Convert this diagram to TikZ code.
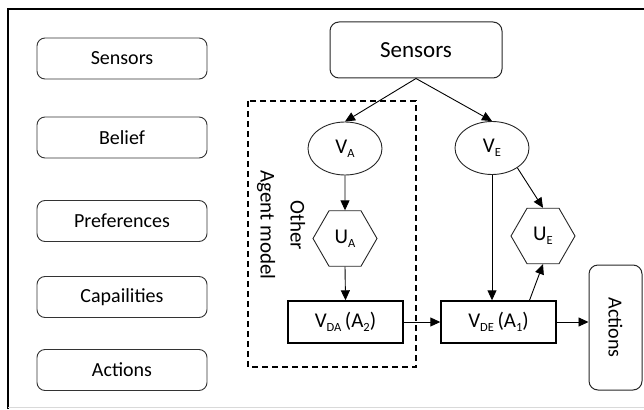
\documentclass[tikz,border=0pt]{standalone}
\usepackage{fontspec}
\setmainfont{Carlito}
\usetikzlibrary{shapes.geometric,arrows.meta}
\newcommand{\lowsub}[1]{\raisebox{-0.4ex}{\fontsize{12.5}{12.5}\selectfont #1}}
\begin{document}
\begin{tikzpicture}[x=1pt,y=-1pt,
  sidebox/.style={draw=black!80,line width=0.9pt,rounded corners=8pt,minimum width=170pt,minimum height=41pt,inner sep=0pt,font=\fontsize{20}{20}\selectfont},
  topbox/.style={draw=black!85,line width=1pt,rounded corners=9pt,minimum width=172pt,minimum height=56pt,inner sep=0pt,font=\fontsize{23}{23}\selectfont},
  ell/.style={draw=black!85,line width=0.9pt,ellipse,minimum width=74pt,minimum height=53pt,inner sep=0pt,font=\fontsize{21}{21}\selectfont},
  hexa/.style={draw=black!85,line width=0.9pt,regular polygon,regular polygon sides=6,minimum size=64pt,inner sep=0pt,font=\fontsize{21}{21}\selectfont},
  rectbox/.style={draw=black,line width=1.4pt,minimum width=115pt,minimum height=42pt,inner sep=0pt,font=\fontsize{21}{21}\selectfont},
  actbox/.style={draw=black!85,line width=1pt,rounded corners=9pt,minimum width=125pt,minimum height=53pt,inner sep=0pt,rotate=-90,font=\fontsize{20}{20}\selectfont},
  arr/.style={line width=0.9pt,-{Triangle[length=10pt,width=9pt]}},
  frame/.style={line width=1.8pt,black}
]
\useasboundingbox (0,0) rectangle (644,409);
% frame
\coordinate (fbl) at (8,409);
\coordinate (ftl) at (8,9);
\coordinate (ftr) at (644,9);
\coordinate (fbl2) at (8,407);
\coordinate (fbr2) at (644,407);
\draw[frame] (fbl) -- (ftl) -- (ftr);
\draw[black!15,line width=1pt] (fbl2) -- (fbr2);

% left column
\node[sidebox] (s1) at (122,58.5) {Sensors};
\node[sidebox] (s2) at (122,137.5) {Belief};
\node[sidebox] (s3) at (122,221) {Preferences};
\node[sidebox] (s4) at (122,297) {Capailities};
\node[sidebox] (s5) at (122,370) {Actions};

% dashed agent model box
\coordinate (d1) at (248,101);
\coordinate (d2) at (416,367);
\draw[line width=1.2pt,dash pattern=on 6pt off 4pt] (d1) rectangle (d2);
\node[rotate=-90,align=center,font=\fontsize{21}{30}\selectfont] (om) at (281,225) {Other\\Agent model};

% main nodes
\node[topbox] (sens) at (416,50) {Sensors};
\node[ell] (va) at (345,148.5) {V\lowsub{A}};
\node[ell] (ve) at (492,148) {V\lowsub{E}};
\node[hexa] (ua) at (345,238.5) {U\lowsub{A}};
\node[hexa] (ue) at (543,236) {U\lowsub{E}};
\node[rectbox] (vda) at (345.5,322) {V\lowsub{DA}\,(A\lowsub{2})};
\node[rectbox] (vde) at (498.5,322) {V\lowsub{DE}\,(A\lowsub{1})};
\node[actbox] (act) at (615.5,327.5) {Actions};

% connectors
\draw[arr] (sens.south) -- (va.north);
\draw[arr] (sens.south) -- (ve.north);
\draw[arr] (va.south) -- (ua.north);
\draw[arr] (ua.south) -- (vda.north);
\draw[arr] (ve.south) -- (ve.south |- vde.north);
\draw[arr] (ve.-38) -- (ue.north);
\draw[arr] ([xshift=31pt]vde.north) -- (ue.south);
\draw[arr] (vda.east) -- (vde.west);
\draw[arr] (vde.east) -- (vde.east -| act.south);
\end{tikzpicture}
\end{document}
